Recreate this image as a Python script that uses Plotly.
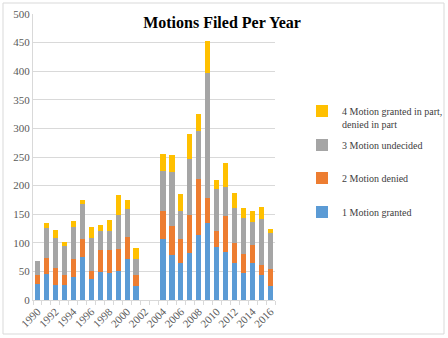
import plotly.graph_objects as go

years = list(range(1990, 2017))
granted = [28, 45, 26, 27, 40, 75, 37, 49, 47, 51, 72, 24, 0, 0,
           107, 78, 64, 82, 113, 134, 92, 84, 64, 48, 64, 43, 25]
denied = [15, 28, 30, 17, 31, 32, 14, 38, 40, 38, 38, 20, 0, 0,
          49, 52, 43, 67, 98, 44, 29, 62, 35, 32, 32, 19, 29]
undecided = [25, 53, 53, 51, 56, 60, 57, 33, 33, 60, 49, 28, 0, 0,
             70, 93, 49, 98, 85, 218, 73, 52, 61, 64, 41, 79, 64]
partial = [0, 9, 13, 6, 11, 7, 20, 12, 19, 34, 15, 19, 0, 0,
           29, 30, 29, 44, 30, 57, 15, 41, 27, 16, 19, 22, 7]

series_names = ["1 Motion granted", "2 Motion denied", "3 Motion undecided",
                "4 Motion granted in part,<br>denied in part"]
series_values = [granted, denied, undecided, partial]
colors = ["#5B9BD5", "#ED7D31", "#A5A5A5", "#FFC000"]
legend_ids = ["legend4", "legend3", "legend2", "legend"]
tick_years = list(range(1990, 2017, 2))

FONT = "Liberation Serif"
W, H = 448, 338

fig = go.Figure()
for name, vals, col, lg in zip(series_names, series_values, colors, legend_ids):
    fig.add_trace(go.Bar(x=years, y=vals, name=name, marker_color=col,
                         marker_line_width=0, legend=lg, showlegend=True))

leg_common = dict(font=dict(family=FONT, size=10, color="#404040"),
                  bgcolor="rgba(0,0,0,0)", borderwidth=0, itemwidth=30,
                  xref="container", yref="container",
                  xanchor="left", x=302 / W, visible=True)

fig.update_layout(
    width=W, height=H,
    margin=dict(l=33, r=173, t=14, b=38, autoexpand=False),
    paper_bgcolor="white", plot_bgcolor="white",
    showlegend=True,
    barmode="stack", bargap=0.42,
    font=dict(family=FONT, size=11, color="#595959"),
    title=dict(text="<b>Motions Filed Per Year</b>", x=222 / W, xref="container",
               xanchor="center", y=(H - 22) / H, yanchor="middle",
               font=dict(family=FONT, size=16, color="#000000")),
    xaxis=dict(range=[1989.5, 2016.5], tickmode="array", tickvals=tick_years,
               tickangle=-45, showgrid=False, showline=True, linecolor="#D9D9D9",
               linewidth=1, ticks="", zeroline=False, automargin=False,
               tickfont=dict(family=FONT, size=11, color="#595959"),
               minor=dict(tick0=1989.5, dtick=1, ticks="outside", ticklen=4,
                          tickcolor="#D9D9D9", showgrid=False)),
    yaxis=dict(range=[0, 500], dtick=50, showgrid=True, gridcolor="#D9D9D9",
               gridwidth=1, showline=True, linecolor="#D9D9D9", zeroline=False,
               ticks="", automargin=False,
               tickfont=dict(family=FONT, size=11, color="#595959")),
    legend=dict(**leg_common, y=1 - 98 / H, yanchor="top", valign="top"),
    legend2=dict(**leg_common, y=1 - 145 / H, yanchor="middle"),
    legend3=dict(**leg_common, y=1 - 178 / H, yanchor="middle"),
    legend4=dict(**leg_common, y=1 - 212 / H, yanchor="middle"),
    shapes=[dict(type="rect", xref="paper", yref="paper",
                 x0=(3 - 33) / 242, x1=(444 - 33) / 242,
                 y0=(300 - 334) / 286, y1=(300 - 3) / 286,
                 line=dict(color="#D9D9D9", width=1), layer="below")],
)

fig.write_html("out.html")
